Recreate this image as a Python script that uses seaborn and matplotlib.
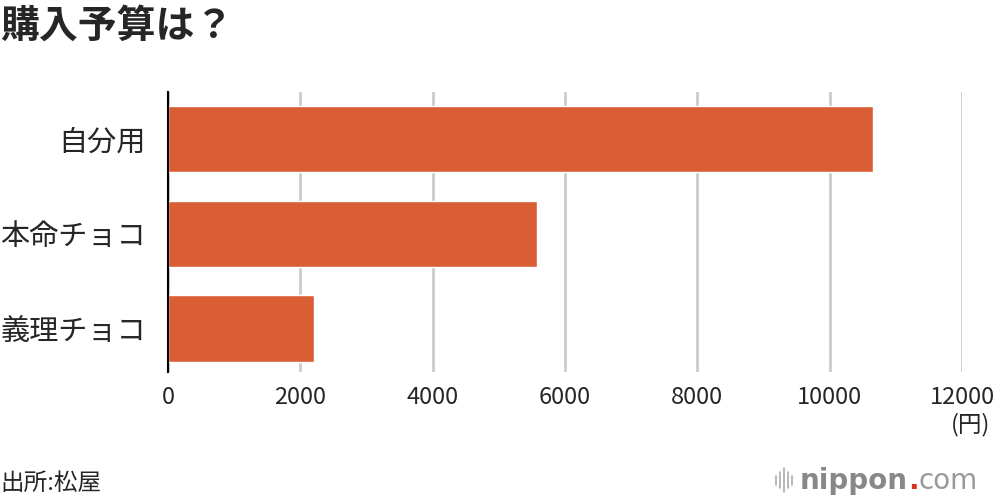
import pandas as pd
import seaborn as sns
import matplotlib.pyplot as plt
from matplotlib.lines import Line2D

# Data (yen)
categories = ['自分用', '本命チョコ', '義理チョコ']
budget = [10660, 5570, 2200]
x_ticks = [0, 2000, 4000, 6000, 8000, 10000, 12000]

df = pd.DataFrame({'category': categories, 'budget': budget})

sns.set_theme(style='white')
plt.rcParams['font.family'] = ['Noto Sans CJK JP', 'DejaVu Sans']

fig = plt.figure(figsize=(10, 5.04), dpi=100)
ax = fig.add_axes([0.168, 0.262, 0.794, 0.556])

sns.barplot(data=df, x='budget', y='category', orient='h', color='#D95E34',
            saturation=1, width=0.7, ax=ax, zorder=3)

ax.set_xlim(0, 12000)
ax.set_ylim(2.46, -0.5)
ax.set_xticks(x_ticks)
ax.set_xticklabels([str(t) for t in x_ticks], fontsize=17)
ax.tick_params(axis='y', labelsize=21, length=0, pad=16)
ax.tick_params(axis='x', length=0, pad=10)
ax.set_xlabel('')
ax.set_ylabel('')

ax.grid(axis='x', color='#CCCCCC', linewidth=2, zorder=0)
ax.grid(axis='y', visible=False)
for side in ['top', 'right', 'bottom']:
    ax.spines[side].set_visible(False)
ax.spines['left'].set_color('black')
ax.spines['left'].set_linewidth(1.5)
ax.spines['left'].set_zorder(4)

# titles and notes
fig.text(0.0, 0.948, '購入予算は？', fontsize=28, fontweight='bold', va='center', ha='left')
fig.text(0.99, 0.157, '(円)', fontsize=17, ha='right', va='center')
fig.text(0.0, 0.04, '出所:松屋', fontsize=17, ha='left', va='center')

# nippon.com logo
for i, h in enumerate([0.018, 0.032, 0.048, 0.032, 0.018]):
    x = 0.776 + i * 0.004
    fig.add_artist(Line2D([x, x], [0.047 - h / 2, 0.047 + h / 2], color='#AAAAAA', linewidth=1.2))
t = fig.text(0.80, 0.045, 'nippon', fontsize=20, fontweight='bold', color='#888888',
             ha='left', va='center', family=['DejaVu Sans'])
fig.canvas.draw()
bb = t.get_window_extent()
x1 = bb.x1 / fig.bbox.width
d = fig.text(x1, 0.045, '.', fontsize=20, fontweight='bold', color='#E0301E',
             ha='left', va='center', family=['DejaVu Sans'])
fig.canvas.draw()
x2 = d.get_window_extent().x1 / fig.bbox.width
fig.text(x2, 0.045, 'com', fontsize=20, color='#999999', ha='left', va='center',
         family=['DejaVu Sans'])

fig.savefig('out.png', dpi=100)
